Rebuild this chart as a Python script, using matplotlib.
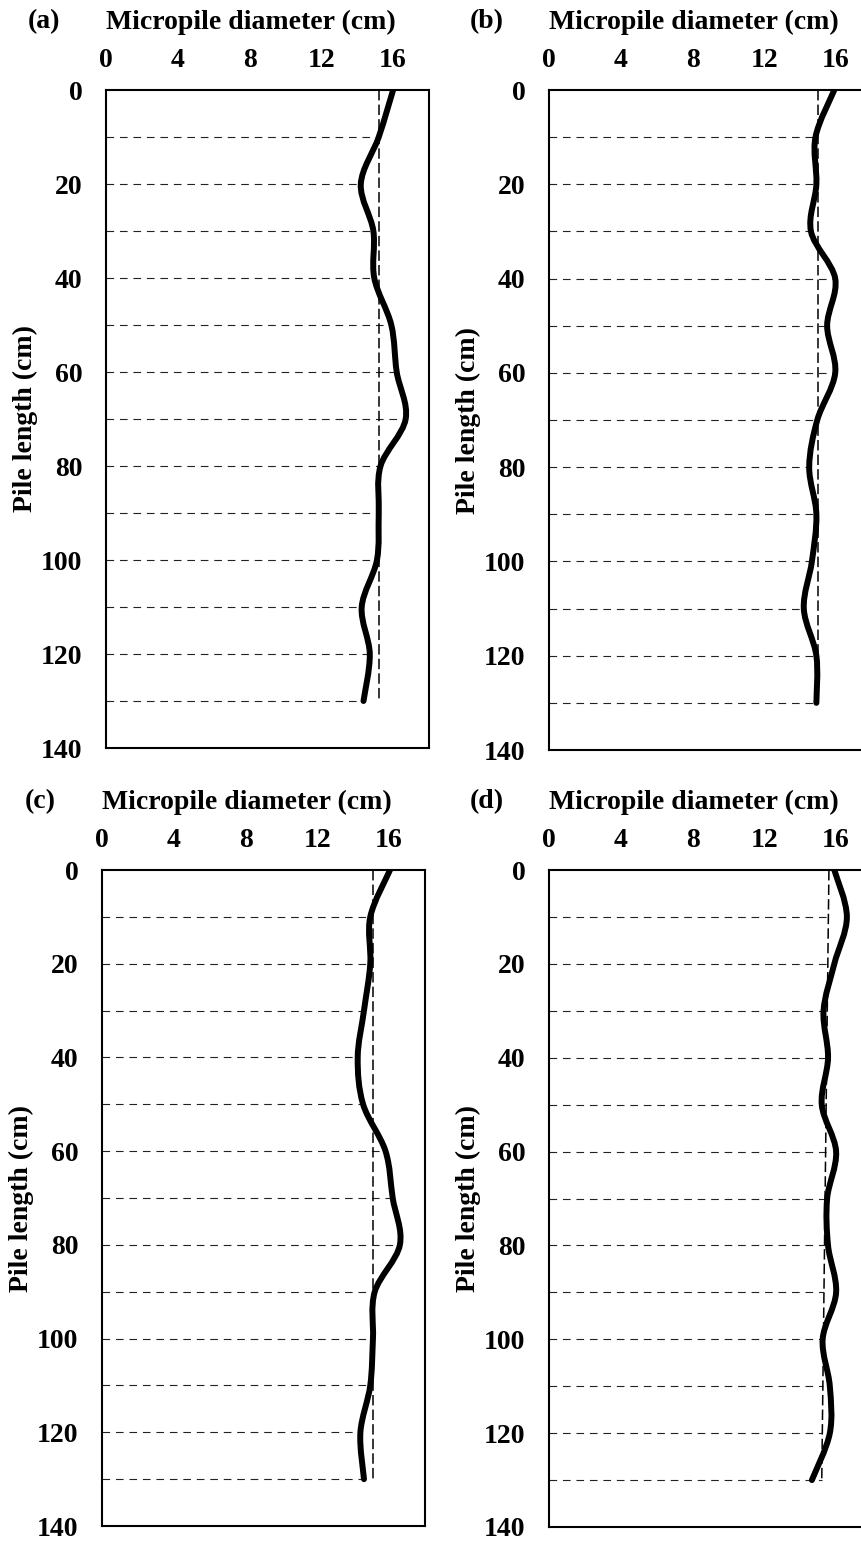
import numpy as np
import matplotlib
matplotlib.use("Agg")
import matplotlib.pyplot as plt
from matplotlib.path import Path
from matplotlib.patches import PathPatch

plt.rcParams['font.family'] = ['Liberation Serif', 'DejaVu Serif']
plt.rcParams['font.weight'] = 'bold'
plt.rcParams['lines.scale_dashes'] = False

# measured diameter (cm) every 10 cm down the pile
depth = [0, 10, 20, 30, 40, 50, 60, 70, 80, 90, 100, 110, 120, 130]
diam_a = [16.0, 15.2, 14.2, 14.9, 14.95, 15.9, 16.2, 16.7, 15.3, 15.2, 15.1, 14.25, 14.7, 14.35]
diam_b = [15.9, 14.85, 14.9, 14.6, 15.95, 15.5, 15.95, 14.95, 14.5, 14.9, 14.65, 14.2, 14.9, 14.9]
diam_c = [16.05, 14.95, 14.95, 14.6, 14.25, 14.55, 15.8, 16.2, 16.6, 15.2, 15.1, 14.95, 14.4, 14.6]
diam_d = [15.9, 16.6, 15.9, 15.3, 15.55, 15.2, 16.0, 15.5, 15.55, 16.0, 15.25, 15.65, 15.65, 14.65]

# design diameter line (top, bottom)
design_a = (15.2, 15.2)
design_b = (15.0, 15.0)
design_c = (15.1, 15.1)
design_d = (15.6, 15.2)

# guide lines run to the profile, or to the design line in (d)
guide_to_design = [False, False, False, True]

panel_tags = ['(a)', '(b)', '(c)', '(d)']
xticks = [0, 4, 8, 12, 16]
yticks = [0, 20, 40, 60, 80, 100, 120, 140]

W, H = 862, 1542
fig = plt.figure(figsize=(W / 100, H / 100), dpi=100)

# left, top, bottom in pixels
boxes = [(106, 90, 748), (549, 90, 750), (102, 870, 1526), (549, 870, 1527)]
box_w = 323


def smooth_path(x, y):
    pts = np.column_stack([x, y]).astype(float)
    n = len(pts)
    verts = [pts[0]]
    codes = [Path.MOVETO]
    for i in range(n - 1):
        p0 = pts[max(i - 1, 0)]
        p1 = pts[i]
        p2 = pts[i + 1]
        p3 = pts[min(i + 2, n - 1)]
        verts += [p1 + (p2 - p0) / 6, p2 - (p3 - p1) / 6, p2]
        codes += [Path.CURVE4] * 3
    return Path(verts, codes)


for tag, diam, design, to_design, (left, top, bottom) in zip(
        panel_tags, [diam_a, diam_b, diam_c, diam_d],
        [design_a, design_b, design_c, design_d], guide_to_design, boxes):
    ax = fig.add_axes([left / W, 1 - bottom / H, box_w / W, (bottom - top) / H])
    ax.set_xlim(0, 18)
    ax.set_ylim(140, 0)
    ax.xaxis.tick_top()
    ax.set_xticks(xticks)
    ax.set_yticks(yticks)
    ax.tick_params(length=0, labelsize=20)
    ax.tick_params(axis='x', pad=12)
    ax.tick_params(axis='y', pad=17)
    for s in ax.spines.values():
        s.set_linewidth(1.5)

    design_at = np.interp(depth, [depth[0], depth[-1]], design)
    for d, v, g in zip(depth[1:], diam[1:], design_at[1:]):
        end = g if to_design else v
        ax.plot([0, end], [d, d], color='#222222', lw=0.8,
                linestyle=(0, (5.5, 4.2)), zorder=2)

    ax.plot([design[0], design[1]], [depth[0], depth[-1]], color='black',
            lw=1.1, linestyle=(0, (7.5, 3)), zorder=2)

    ax.add_patch(PathPatch(smooth_path(diam, depth), facecolor='none',
                           edgecolor='black', lw=4.3, capstyle='round',
                           zorder=3))

    ax.annotate('Micropile diameter (cm)', xy=(0, 1), xycoords='axes fraction',
                xytext=(0, 68 * 0.72), textcoords='offset points',
                ha='left', va='center', fontsize=20)
    ax.annotate(tag, xy=(0, 1), xycoords='axes fraction',
                xytext=(-62 * 0.72, 68 * 0.72), textcoords='offset points',
                ha='center', va='center', fontsize=20)
    ax.annotate('Pile length (cm)', xy=(0, 0.5), xycoords='axes fraction',
                xytext=(-81 * 0.72, 0), textcoords='offset points',
                ha='center', va='center', rotation=90, fontsize=20)

fig.savefig('out.png', dpi=100)
